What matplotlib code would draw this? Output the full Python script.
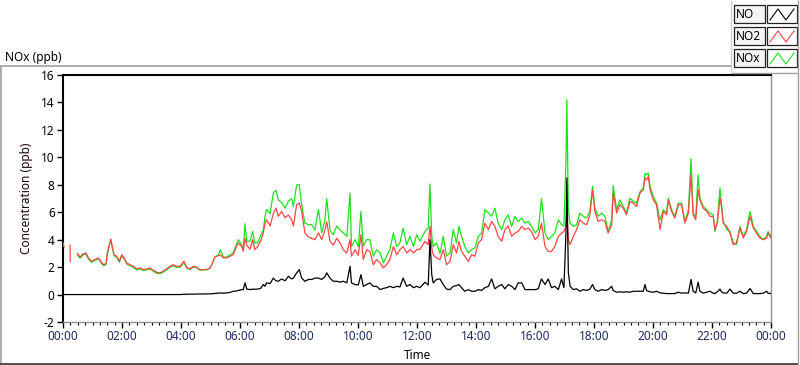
import numpy as np
import matplotlib
matplotlib.use("Agg")
import matplotlib.pyplot as plt
from matplotlib.lines import Line2D
from matplotlib.patches import Rectangle

nan = np.nan

# ---- data (hours since 00:00) ----
hours = [0.00, 0.03, 0.05, 0.24, 0.245, 0.25, 0.49, 0.58, 0.69, 0.78, 0.86, 0.97, 1.08, 1.20, 1.28,
         1.37, 1.46, 1.50, 1.57, 1.62, 1.67, 1.73, 1.82, 1.91, 1.99, 2.07, 2.16, 2.27, 2.38, 2.50,
         2.61, 2.72, 2.84, 2.95, 3.06, 3.18, 3.29, 3.40, 3.51, 3.63, 3.74, 3.83, 3.97, 4.10, 4.19,
         4.30, 4.42, 4.53, 4.64, 4.87, 4.98, 5.07, 5.15, 5.27, 5.33, 5.44, 5.55, 5.66, 5.77, 5.86,
         5.94, 6.06, 6.11, 6.17, 6.23, 6.34, 6.43, 6.50, 6.60, 6.70, 6.79, 6.85, 6.90, 7.02, 7.13,
         7.22, 7.30, 7.41, 7.53, 7.64, 7.75, 7.81, 7.92, 8.01, 8.09, 8.20, 8.32, 8.43, 8.54, 8.66,
         8.77, 8.88, 8.94, 9.05, 9.16, 9.28, 9.39, 9.50, 9.62, 9.73, 9.78, 9.90, 10.01, 10.10, 10.18,
         10.29, 10.40, 10.52, 10.63, 10.75, 10.86, 10.97, 11.08, 11.20, 11.31, 11.42, 11.53, 11.65, 11.76, 11.88,
         11.99, 12.10, 12.27, 12.38, 12.44, 12.50, 12.55, 12.66, 12.78, 12.89, 13.00, 13.12, 13.23, 13.34, 13.42,
         13.51, 13.62, 13.74, 13.85, 13.96, 14.08, 14.19, 14.30, 14.42, 14.53, 14.64, 14.75, 14.87, 14.98, 15.09,
         15.21, 15.32, 15.43, 15.55, 15.66, 15.77, 15.88, 16.00, 16.11, 16.22, 16.34, 16.45, 16.56, 16.67, 16.79,
         16.90, 16.98, 17.05, 17.08, 17.13, 17.19, 17.30, 17.41, 17.52, 17.64, 17.75, 17.86, 17.95, 18.03, 18.14,
         18.26, 18.37, 18.48, 18.60, 18.65, 18.77, 18.88, 18.99, 19.10, 19.22, 19.33, 19.44, 19.56, 19.67, 19.73,
         19.78, 19.84, 19.90, 20.01, 20.12, 20.24, 20.35, 20.46, 20.52, 20.63, 20.74, 20.86, 20.97, 21.08, 21.20,
         21.29, 21.36, 21.45, 21.53, 21.59, 21.70, 21.82, 21.93, 22.04, 22.10, 22.18, 22.27, 22.32, 22.38, 22.50,
         22.61, 22.72, 22.83, 22.95, 23.06, 23.17, 23.29, 23.40, 23.51, 23.62, 23.74, 23.85, 23.90, 24.00]

no2 = [3.80, 3.50, nan, 3.60, 2.40, nan, 2.98, 2.74, 2.98, 3.03, 2.67, 2.42, 2.55, 2.67, 2.42,
       2.18, 2.25, 3.00, 3.60, 4.05, 3.50, 2.90, 2.80, 2.42, 2.90, 2.67, 2.30, 2.18, 2.06, 1.87,
       1.94, 1.82, 1.87, 1.94, 1.77, 1.62, 1.58, 1.70, 1.87, 2.06, 2.18, 2.06, 2.06, 2.42, 2.00,
       1.87, 2.06, 2.00, 1.82, 1.82, 1.94, 2.30, 2.74, 2.84, 2.90, 2.67, 2.67, 2.79, 2.90, 3.40,
       3.76, 3.50, 3.15, 4.10, 3.60, 3.30, 4.00, 3.27, 3.50, 3.90, 4.50, 5.20, 5.45, 5.00, 5.90,
       6.30, 5.70, 6.06, 5.60, 5.80, 5.45, 5.00, 6.55, 6.67, 6.06, 4.50, 4.20, 4.10, 4.00, 4.50,
       4.00, 4.70, 5.30, 3.90, 3.60, 4.10, 3.76, 3.27, 3.03, 4.00, 2.80, 3.27, 2.85, 4.36, 2.55,
       3.27, 3.15, 2.18, 2.55, 2.30, 1.94, 2.18, 2.55, 3.50, 2.90, 3.27, 3.50, 3.03, 3.27, 3.03,
       3.27, 3.30, 3.88, 3.64, 4.97, 3.40, 2.90, 2.67, 2.55, 3.27, 2.18, 2.42, 3.64, 3.03, 3.88,
       3.15, 2.79, 2.42, 2.90, 2.79, 3.76, 4.00, 5.20, 4.73, 5.33, 4.97, 4.24, 3.88, 4.73, 5.00,
       4.24, 4.48, 4.60, 4.97, 4.73, 4.85, 4.60, 4.00, 4.24, 5.20, 3.50, 3.15, 3.15, 3.50, 4.24,
       4.48, 4.60, 4.97, 5.70, 4.00, 3.64, 4.24, 4.73, 5.45, 5.20, 5.09, 5.80, 7.60, 6.06, 5.33,
       5.45, 5.33, 4.48, 5.09, 7.40, 5.94, 6.55, 6.30, 5.82, 6.79, 6.67, 6.42, 7.40, 7.64, 8.50,
       8.36, 8.60, 7.64, 6.90, 6.55, 4.73, 6.06, 5.82, 6.90, 6.06, 5.58, 6.55, 6.55, 5.21, 5.94,
       8.73, 5.82, 5.45, 7.64, 6.90, 6.30, 6.06, 5.70, 5.70, 4.73, 5.21, 7.03, 6.42, 5.21, 4.97,
       4.48, 3.64, 3.76, 4.85, 4.12, 4.60, 5.70, 4.85, 4.48, 4.12, 4.00, 4.12, 4.48, 4.12]

nox = [3.75, 3.45, nan, nan, nan, nan, 2.90, 2.65, 2.90, 2.95, 2.60, 2.35, 2.48, 2.60, 2.35,
       2.10, 2.18, 2.92, 3.52, 3.98, 3.42, 2.82, 2.72, 2.35, 2.82, 2.60, 2.22, 2.10, 1.98, 1.80,
       1.86, 1.75, 1.80, 1.86, 1.70, 1.55, 1.52, 1.63, 1.80, 1.98, 2.10, 1.99, 1.99, 2.35, 1.94,
       1.82, 2.01, 1.96, 1.78, 1.80, 1.92, 2.30, 2.76, 2.88, 3.27, 2.72, 2.74, 2.88, 3.05, 3.55,
       4.00, 3.60, 3.30, 5.16, 3.85, 3.90, 4.60, 3.76, 3.76, 4.30, 4.70, 5.70, 6.20, 5.90, 7.40,
       7.60, 6.90, 6.70, 6.30, 6.80, 7.00, 6.40, 8.00, 8.00, 6.55, 5.20, 5.10, 5.10, 4.70, 6.20,
       4.50, 5.45, 7.00, 4.70, 4.36, 5.00, 4.70, 4.50, 4.24, 7.40, 3.50, 4.00, 3.50, 6.06, 3.50,
       4.00, 4.00, 2.80, 3.27, 3.03, 2.30, 2.80, 3.27, 4.50, 3.50, 3.76, 4.85, 3.64, 4.24, 3.50,
       4.36, 3.90, 4.60, 4.85, 8.05, 4.24, 3.50, 3.76, 3.00, 4.24, 2.80, 3.03, 4.73, 3.76, 4.97,
       4.24, 3.50, 3.03, 3.27, 3.40, 4.24, 4.48, 6.18, 5.94, 5.70, 6.30, 5.20, 4.73, 5.45, 5.80,
       4.97, 5.70, 5.33, 5.58, 5.20, 5.33, 4.97, 4.50, 4.73, 7.00, 4.48, 4.00, 4.24, 4.48, 5.45,
       5.09, 5.00, 9.80, 14.20, 6.20, 5.20, 4.97, 5.09, 5.94, 5.70, 5.58, 6.06, 7.90, 6.30, 5.70,
       5.94, 5.70, 4.60, 5.45, 7.95, 6.18, 6.90, 6.42, 5.94, 7.03, 6.79, 6.67, 7.50, 7.76, 8.85,
       8.73, 8.85, 7.88, 7.15, 6.67, 5.45, 6.18, 5.94, 7.03, 6.18, 5.70, 6.67, 6.67, 5.33, 6.18,
       9.90, 5.94, 5.70, 8.73, 7.03, 6.42, 6.18, 5.94, 5.82, 4.60, 5.33, 7.76, 6.67, 5.33, 4.73,
       4.60, 3.76, 3.64, 4.97, 4.24, 4.73, 6.06, 4.97, 4.60, 4.24, 4.00, 4.24, 4.60, 4.24]

no = [0.00, 0.00, 0.00, 0.00, 0.00, 0.00, 0.00, 0.00, 0.00, 0.00, 0.00, 0.00, 0.00, 0.00, 0.00,
      0.00, 0.00, 0.00, 0.00, 0.00, 0.00, 0.00, 0.00, 0.00, 0.00, 0.00, 0.00, 0.00, 0.00, 0.00,
      0.00, 0.00, 0.00, 0.00, 0.00, 0.00, 0.00, 0.00, 0.00, 0.00, 0.00, 0.00, 0.00, 0.02, 0.02,
      0.03, 0.03, 0.04, 0.04, 0.05, 0.05, 0.07, 0.08, 0.10, 0.12, 0.10, 0.12, 0.15, 0.24, 0.25,
      0.30, 0.36, 0.35, 0.85, 0.40, 0.36, 0.40, 0.38, 0.40, 0.45, 0.73, 0.60, 0.85, 0.80, 1.20,
      1.00, 0.97, 1.14, 1.00, 1.33, 1.14, 1.20, 1.58, 1.82, 1.20, 0.97, 1.10, 1.10, 1.20, 1.20,
      1.10, 1.30, 1.58, 1.20, 0.97, 0.97, 0.90, 0.97, 0.85, 2.06, 0.85, 0.73, 0.70, 1.45, 0.60,
      0.73, 0.85, 0.60, 0.60, 0.36, 0.45, 0.50, 0.60, 0.50, 0.60, 0.55, 1.20, 0.60, 0.73, 0.50,
      0.60, 0.50, 0.90, 0.70, 4.00, 1.45, 0.85, 1.10, 1.14, 0.73, 0.40, 0.36, 0.60, 0.65, 0.73,
      0.50, 0.24, 0.36, 0.24, 0.24, 0.36, 0.30, 0.50, 0.60, 1.14, 0.42, 0.60, 0.73, 0.42, 0.73,
      0.60, 0.36, 0.85, 0.85, 0.36, 0.36, 0.36, 0.36, 0.42, 1.14, 0.73, 1.14, 0.50, 0.60, 0.36,
      1.14, 0.50, 4.50, 8.50, 1.60, 0.60, 0.36, 0.42, 0.24, 0.36, 0.30, 0.40, 0.73, 0.36, 0.24,
      0.36, 0.30, 0.36, 0.60, 0.30, 0.17, 0.20, 0.17, 0.20, 0.17, 0.24, 0.24, 0.24, 0.24, 0.73,
      0.30, 0.24, 0.20, 0.17, 0.24, 0.12, 0.10, 0.07, 0.07, 0.07, 0.07, 0.17, 0.10, 0.12, 0.10,
      1.10, 0.24, 0.12, 0.90, 0.24, 0.10, 0.17, 0.24, 0.10, 0.07, 0.20, 0.40, 0.20, 0.12, 0.10,
      0.40, 0.10, 0.10, 0.24, 0.07, 0.10, 0.44, 0.07, 0.07, 0.07, 0.10, 0.24, 0.10, 0.07]

series_names = ["NO", "NO2", "NOx"]
series_colors = ["#000000", "#ff4545", "#1ee01e"]
y_ticks = [-2, 0, 2, 4, 6, 8, 10, 12, 14, 16]
x_tick_hours = [0, 2, 4, 6, 8, 10, 12, 14, 16, 18, 20, 22, 24]
x_tick_labels = ["00:00", "02:00", "04:00", "06:00", "08:00", "10:00", "12:00",
                 "14:00", "16:00", "18:00", "20:00", "22:00", "00:00"]

plt.rcParams['font.family'] = ['Noto Sans', 'DejaVu Sans']

W, H = 800, 365
fig = plt.figure(figsize=(W / 100, H / 100), dpi=100)
fig.patch.set_facecolor("white")


def fx(px):
    return px / W


def fy(py):
    return 1 - py / H


def fline(x0, y0, x1, y1, color, lw=1.0):
    fig.add_artist(Line2D([fx(x0), fx(x1)], [fy(y0), fy(y1)], transform=fig.transFigure,
                          color=color, lw=lw, solid_capstyle="butt"))


# outer panel frame
fline(0, 65.5, 731, 65.5, "#a0a0a0", 1.2)
fline(731, 0, 731, 72, "#d0d0d0", 1.0)
fline(731, 72.5, 798, 72.5, "#a0a0a0", 1.0)
fline(798, 0, 798, 72, "#a0a0a0", 1.0)
fline(0.7, 65.5, 0.7, 363, "#a0a0a0", 1.2)
fline(0, 363.5, 798, 363.5, "#303030", 1.2)
fline(798, 72, 798, 363.5, "#a0a0a0", 1.0)

ax = fig.add_axes([fx(63), fy(322), fx(771) - fx(63), fy(75) - fy(322)])
ax.set_xlim(0, 24)
ax.set_ylim(-2, 16)

t = np.array(hours)
ax.plot(t, nox, color=series_colors[2], lw=0.9, zorder=2)
ax.plot(t, no2, color=series_colors[1], lw=0.9, zorder=3)
ax.plot(t, no, color=series_colors[0], lw=0.9, zorder=4)

ax.set_yticks(y_ticks)
ax.set_yticklabels([str(v) for v in y_ticks])
ax.set_xticks(x_tick_hours)
ax.set_xticklabels(x_tick_labels)
ax.set_xticks(np.arange(0, 24.01, 0.25), minor=True)
ax.tick_params(axis="both", which="major", direction="out", length=4, width=1, labelsize=8.5,
               colors="black", pad=2)
ax.tick_params(axis="x", which="minor", direction="out", length=2.5, width=0.8)
ax.tick_params(axis="x", labelcolor="#1c2a60")
for side in ("left", "top"):
    ax.spines[side].set_color("black")
    ax.spines[side].set_linewidth(1.5)
for side in ("right", "bottom"):
    ax.spines[side].set_color("#909090")
    ax.spines[side].set_linewidth(1.0)

ax.set_ylabel("Concentration (ppb)", fontsize=8.5, labelpad=6, color="#200000")
ax.set_xlabel("Time", fontsize=8.5, labelpad=4)

fig.text(fx(5), fy(57), "NOx (ppb)", fontsize=8.5, ha="left", va="center")

# legend at top right
rows_y = [5, 27, 49]
for name, col, y0 in zip(series_names, series_colors, rows_y):
    # label box
    fig.add_artist(Rectangle((fx(734), fy(y0 + 18)), fx(765) - fx(734), fy(y0) - fy(y0 + 18),
                             transform=fig.transFigure, facecolor="#f4f4f4",
                             edgecolor="#202020", lw=0.9))
    fig.text(fx(736), fy(y0 + 9), name, fontsize=8.5, ha="left", va="center")
    # sample box
    fig.add_artist(Rectangle((fx(767), fy(y0 + 18)), fx(797) - fx(767), fy(y0) - fy(y0 + 18),
                             transform=fig.transFigure, facecolor="white",
                             edgecolor="#202020", lw=0.9))
    xs = [770, 778, 786, 794]
    ys = [y0 + 15, y0 + 4, y0 + 15, y0 + 4]
    fig.add_artist(Line2D([fx(v) for v in xs], [fy(v) for v in ys], transform=fig.transFigure,
                          color=col, lw=0.8))

fig.savefig("out.png", dpi=100)
